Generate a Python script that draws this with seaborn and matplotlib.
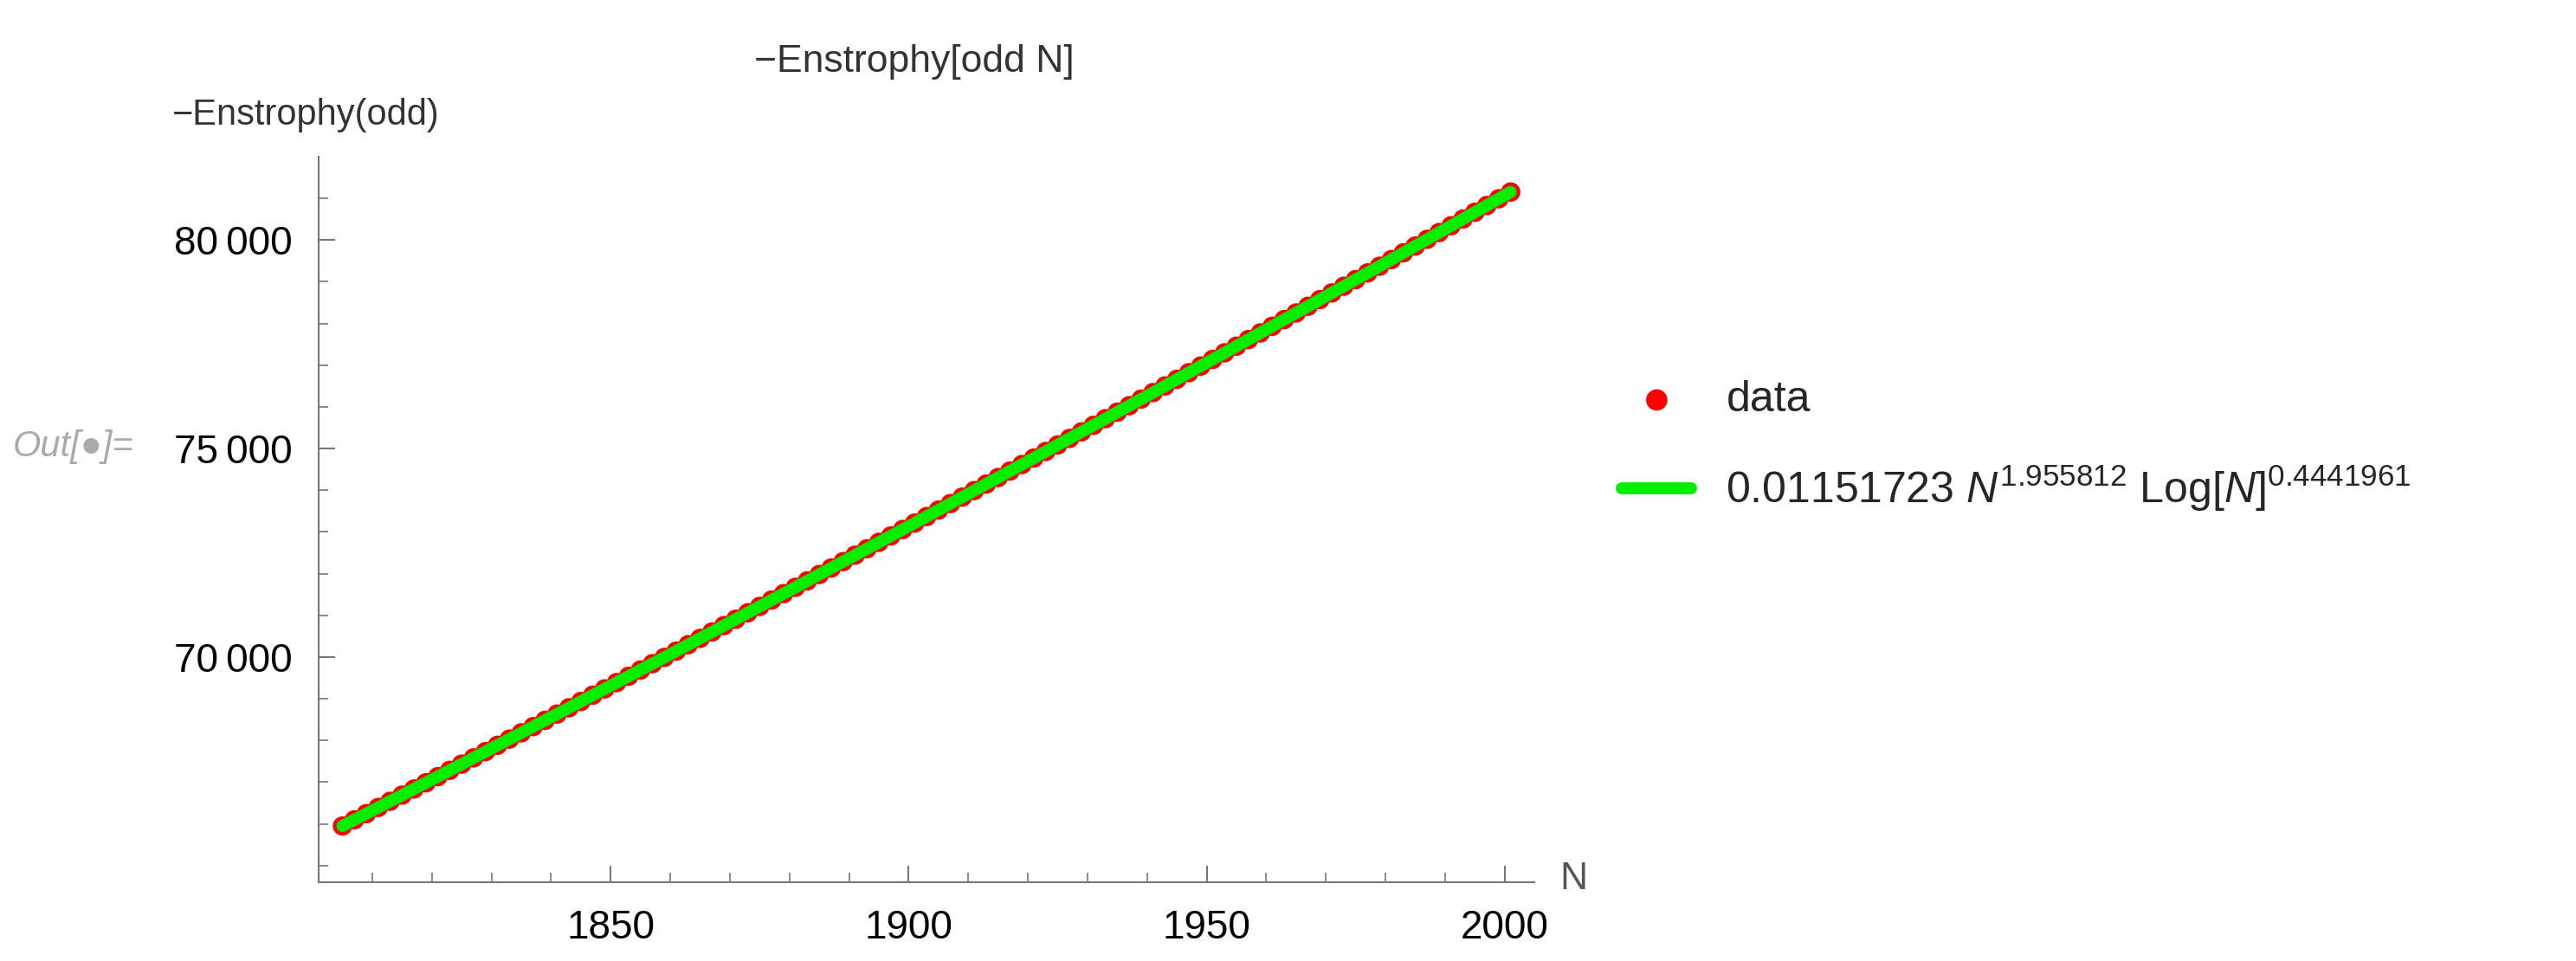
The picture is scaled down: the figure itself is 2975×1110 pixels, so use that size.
import numpy as np
import pandas as pd
import matplotlib
matplotlib.use("Agg")
import matplotlib.pyplot as plt
import seaborn as sns

# odd N, values
n_values = list(range(1805, 2002, 2))
enstrophy = [
    65948, 66096, 66244, 66392, 66540, 66688, 66836, 66984, 67132,
    67282, 67432, 67582, 67732, 67882, 68032, 68182, 68332, 68482, 68632,
    68783, 68934, 69085, 69236, 69387, 69538, 69689, 69840, 69991, 70142,
    70295, 70448, 70601, 70754, 70907, 71060, 71213, 71366, 71519, 71672,
    71826, 71980, 72134, 72288, 72442, 72596, 72750, 72904, 73058, 73212,
    73368, 73524, 73680, 73836, 73992, 74148, 74304, 74460, 74616, 74772,
    74929, 75086, 75243, 75400, 75557, 75714, 75871, 76028, 76185, 76342,
    76501, 76660, 76819, 76978, 77137, 77296, 77455, 77614, 77773, 77932,
    78092, 78252, 78412, 78572, 78732, 78892, 79052, 79212, 79372, 79532,
    79694, 79856, 80018, 80180, 80342, 80504, 80666, 80828, 80990, 81152,
]
fit_label = r"0.01151723 $\it{N}^{1.955812}$ Log[$\it{N}$]$^{0.4441961}$"

df = pd.DataFrame({"N": n_values, "E": enstrophy})

sns.set_style("white")
plt.rcParams["font.family"] = ["Liberation Sans", "DejaVu Sans"]
plt.rcParams["mathtext.fontset"] = "custom"
plt.rcParams["mathtext.rm"] = "Liberation Sans"
plt.rcParams["mathtext.it"] = "Liberation Sans:italic"

fig = plt.figure(figsize=(29.75, 11.1), dpi=100)
ax = fig.add_axes([0.1237, 0.082, 0.472, 0.755])

sns.scatterplot(data=df, x="N", y="E", ax=ax, color="red", s=260,
                edgecolor="none", label="data", zorder=2)
sns.lineplot(data=df, x="N", y="E", ax=ax, color="#00ee00", linewidth=10,
             label=fit_label, zorder=3)

ax.set_xlim(1801, 2005)
ax.set_ylim(64600, 82000)
ax.set_xticks([1850, 1900, 1950, 2000])
ax.set_xticks(np.arange(1810, 2005, 10), minor=True)
ax.set_yticks([70000, 75000, 80000])
ax.set_yticks(np.arange(65000, 82000, 1000), minor=True)
ax.set_xticklabels(["1850", "1900", "1950", "2000"])
ax.set_yticklabels(["70\u2009000", "75\u2009000", "80\u2009000"])
ax.tick_params(axis="both", which="both", bottom=True, left=True)
ax.tick_params(axis="both", which="major", direction="in", length=14, width=1.5,
               color="#777777", labelsize=33, labelcolor="black", pad=22)
ax.tick_params(axis="both", which="minor", direction="in", length=8, width=1.2,
               color="#777777")
for side in ["top", "right"]:
    ax.spines[side].set_visible(False)
for side in ["left", "bottom"]:
    ax.spines[side].set_color("#777777")
    ax.spines[side].set_linewidth(1.5)
ax.set_xlabel("")
ax.set_ylabel("")

fig.text(0.6055, 0.075, "N", fontsize=32, color="#555555")
fig.text(0.067, 0.87, "\u2212Enstrophy(odd)", fontsize=30, color="#333333")
fig.text(0.355, 0.925, "\u2212Enstrophy[odd N]", fontsize=32, color="#333333",
         ha="center")
fig.text(0.005, 0.525, "Out[\u25cf]=", fontsize=30, color="#aaaaaa",
         style="italic")

ax.legend(loc="center left", bbox_to_anchor=(1.04, 0.6), frameon=False,
          fontsize=36, markerscale=1.1, handlelength=1.6, labelspacing=1.0)

fig.savefig("out.png", dpi=100)
